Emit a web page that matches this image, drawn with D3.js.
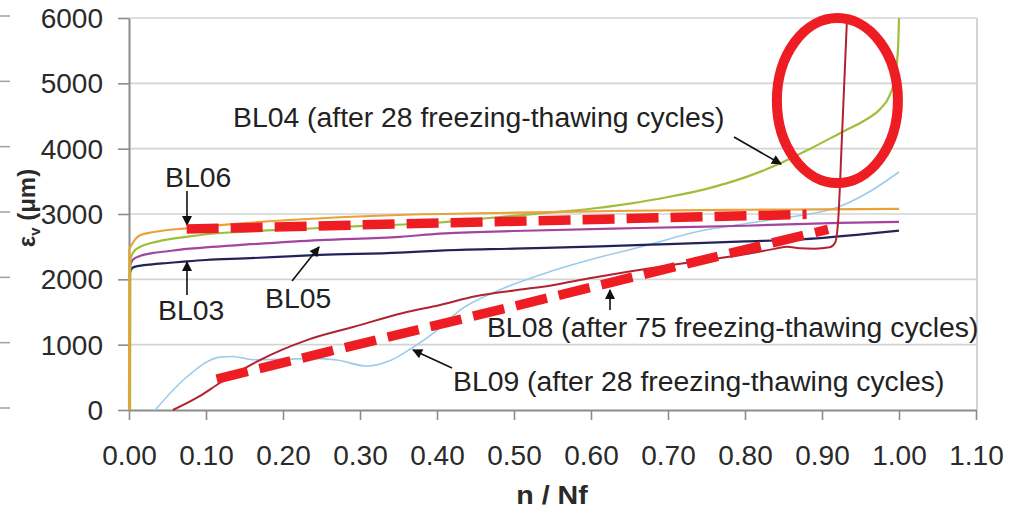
<!DOCTYPE html>
<html>
<head>
<meta charset="utf-8">
<script src="https://cdn.jsdelivr.net/npm/d3@7/dist/d3.min.js"></script>
<style>
  html, body { margin: 0; padding: 0; background: #fff; }
  svg { display: block; }
  text { font-family: "Liberation Sans", Arial, sans-serif; }
</style>
</head>
<body>
<svg id="chart" width="1026" height="509"></svg>
<script>
// Axis ticks
const xTicks = [0, 0.1, 0.2, 0.3, 0.4, 0.5, 0.6, 0.7, 0.8, 0.9, 1.0, 1.1];
const yTicks = [0, 1000, 2000, 3000, 4000, 5000, 6000];

// Vertical strain εv (μm) against life fraction n / Nf
const bl06X = [0, 0.0005, 0.005, 0.015, 0.03, 0.05, 0.075, 0.1, 0.15, 0.25, 0.35, 0.5, 0.65, 0.8, 0.9, 1.0];
const bl06Y = [0, 2450, 2560, 2680, 2720, 2755, 2780, 2810, 2860, 2935, 2985, 3020, 3050, 3065, 3072, 3077];

const bl04X = [0.0013, 0.0018, 0.006, 0.015, 0.03, 0.05, 0.075, 0.1, 0.15, 0.248, 0.3, 0.404, 0.45, 0.534, 0.6, 0.65, 0.7, 0.75, 0.8, 0.843, 0.885, 0.927, 0.958, 0.975, 0.988, 0.995, 0.999, 1.0];
const bl04Y = [0, 2300, 2420, 2500, 2560, 2610, 2650, 2690, 2730, 2786, 2815, 2870, 2920, 3010, 3080, 3160, 3260, 3385, 3560, 3760, 4000, 4260, 4450, 4600, 4820, 5100, 5600, 6000];

const bl05X = [0.001, 0.005, 0.015, 0.03, 0.05, 0.075, 0.1, 0.15, 0.248, 0.352, 0.404, 0.5, 0.664, 0.8, 0.923, 1.0];
const bl05Y = [2200, 2300, 2360, 2400, 2430, 2465, 2490, 2530, 2600, 2650, 2700, 2740, 2786, 2820, 2865, 2880];

const bl03X = [0.001, 0.005, 0.015, 0.03, 0.05, 0.075, 0.1, 0.15, 0.248, 0.352, 0.404, 0.5, 0.612, 0.7, 0.8, 0.871, 0.945, 1.0];
const bl03Y = [2100, 2180, 2210, 2230, 2250, 2275, 2296, 2320, 2373, 2410, 2440, 2470, 2505, 2540, 2580, 2610, 2680, 2745];

const bl08X = [0.057, 0.09, 0.118, 0.17, 0.231, 0.291, 0.356, 0.404, 0.45, 0.5, 0.55, 0.6, 0.65, 0.7, 0.75, 0.8, 0.84, 0.855, 0.871, 0.89, 0.91, 0.917, 0.921, 0.926, 0.9325];
const bl08Y = [0, 200, 413, 765, 1070, 1270, 1485, 1607, 1740, 1830, 1910, 2020, 2120, 2210, 2295, 2385, 2470, 2500, 2475, 2470, 2490, 2560, 2900, 4200, 6000];

const bl09X = [0.034, 0.075, 0.118, 0.135, 0.161, 0.2, 0.24, 0.27, 0.309, 0.34, 0.365, 0.4, 0.43, 0.48, 0.55, 0.612, 0.664, 0.742, 0.8, 0.85, 0.921, 0.96, 1.0];
const bl09Y = [0, 505, 810, 820, 770, 775, 790, 765, 673, 760, 930, 1220, 1530, 1830, 2130, 2342, 2495, 2740, 2850, 2940, 3107, 3330, 3643];

const seriesNames = ["BL09", "BL03", "BL05", "BL04", "BL06", "BL08"];
const seriesColors = ["#9ccbeb", "#23235c", "#a3449f", "#9fbe3c", "#e9a23b", "#b02330"];
const seriesWidths = [1.6, 2.2, 2.2, 2.2, 2.2, 2.0];

// Callout labels: text anchor and arrow (from, to), in data units
const calloutText = [
  "BL04 (after 28 freezing-thawing cycles)",
  "BL06",
  "BL03",
  "BL05",
  "BL08 (after 75 freezing-thawing cycles)",
  "BL09 (after 28 freezing-thawing cycles)"
];
const calloutPos = [[0.1351, 4332], [0.0468, 3413], [0.0377, 1378], [0.1766, 1561], [0.4649, 1117], [0.4208, 291]];
const calloutFrom = [[0.7857, 4179], [0.0753, 3352], [0.0753, 1760], [0.2117, 1975], [0.6247, 1531], [0.4195, 643]];
const calloutTo = [[0.8468, 3765], [0.0753, 2832], [0.0753, 2265], [0.2468, 2495], [0.6247, 1837], [0.3688, 918]];

// Hand-drawn highlight: two dashed trend strokes and an ellipse
const trendStart = [[0.0749, 2770], [0.1139, 474]];
const trendEnd = [[0.880, 2995], [0.908, 2766]];
const ringCenter = [0.920, 4737];
const ringRadius = [0.0786, 1263];

const svg = d3.select("#chart");
const x = d3.scaleLinear().domain([0, 1.1]).range([129, 976]);
const y = d3.scaleLinear().domain([0, 6000]).range([410, 18]);

// Gridlines
svg.append("g").selectAll("line").data(yTicks.filter(d => d > 0)).join("line")
  .attr("x1", x(0)).attr("x2", x(1.1) + 1)
  .attr("y1", d => y(d)).attr("y2", d => y(d))
  .attr("stroke", "#d4d4d4").attr("stroke-width", 1.6);

// Plot area right edge
svg.append("line")
  .attr("x1", x(1.1) + 1).attr("x2", x(1.1) + 1)
  .attr("y1", y(6000)).attr("y2", y(0))
  .attr("stroke", "#cfcfcf").attr("stroke-width", 1.8);

// Tick stubs on the left margin
svg.append("g").selectAll("line").data(yTicks).join("line")
  .attr("x1", 0).attr("x2", 10)
  .attr("y1", d => y(d) - 2).attr("y2", d => y(d) - 2)
  .attr("stroke", "#a0a0a0").attr("stroke-width", 1.5);

// Axes
const xAxis = svg.append("g").attr("transform", `translate(0,${y(0)})`)
  .call(d3.axisBottom(x).tickValues(xTicks).tickFormat(d3.format(".2f")).tickSize(10).tickSizeOuter(0));
const yAxis = svg.append("g").attr("transform", `translate(${x(0)},0)`)
  .call(d3.axisLeft(y).tickValues(yTicks).tickFormat(d3.format("d")).tickSize(11).tickSizeOuter(0));

[xAxis, yAxis].forEach(g => {
  g.select(".domain").attr("stroke", "#8c8c8c").attr("stroke-width", 2);
  g.selectAll(".tick line").attr("stroke", "#8c8c8c").attr("stroke-width", 1.6);
  g.selectAll(".tick text")
    .attr("font-family", "'Liberation Sans', Arial, sans-serif")
    .attr("font-size", 28).attr("fill", "#2a2a2a");
});
xAxis.selectAll(".tick text").attr("y", 55).attr("dy", null);
yAxis.selectAll(".tick text").attr("x", -26).attr("dy", "0.34em");

// Series lines
const seriesX = [bl09X, bl03X, bl05X, bl04X, bl06X, bl08X];
const seriesY = [bl09Y, bl03Y, bl05Y, bl04Y, bl06Y, bl08Y];
const line = d3.line().x(d => x(d[0])).y(d => y(d[1])).curve(d3.curveMonotoneX);

svg.append("g").selectAll("path").data(seriesNames).join("path")
  .attr("d", (d, i) => line(seriesX[i].map((v, j) => [v, seriesY[i][j]])))
  .attr("fill", "none")
  .attr("stroke", (d, i) => seriesColors[i])
  .attr("stroke-width", (d, i) => seriesWidths[i])
  .attr("stroke-linejoin", "round");

// Arrowhead
svg.append("defs").append("marker")
  .attr("id", "head").attr("viewBox", "0 0 10 10")
  .attr("refX", 9).attr("refY", 5)
  .attr("markerWidth", 11).attr("markerHeight", 10)
  .attr("markerUnits", "userSpaceOnUse")
  .attr("orient", "auto")
  .append("path").attr("d", "M0,0 L10,5 L0,10 Z").attr("fill", "#111");

// Callouts
svg.append("g").selectAll("line").data(calloutText).join("line")
  .attr("x1", (d, i) => x(calloutFrom[i][0])).attr("y1", (d, i) => y(calloutFrom[i][1]))
  .attr("x2", (d, i) => x(calloutTo[i][0])).attr("y2", (d, i) => y(calloutTo[i][1]))
  .attr("stroke", "#111").attr("stroke-width", 1.6)
  .attr("marker-end", "url(#head)");

svg.append("g").selectAll("text").data(calloutText).join("text")
  .attr("transform", (d, i) => `translate(${x(calloutPos[i][0])},${y(calloutPos[i][1])}) scale(1.05,1)`)
  .attr("font-size", 27).attr("fill", "#222")
  .text(d => d);

// Axis titles
const yTitle = svg.append("text")
  .attr("transform", "translate(35,208) rotate(-90)")
  .attr("text-anchor", "middle")
  .attr("font-size", 24).attr("font-weight", "bold").attr("fill", "#2a2a2a");
yTitle.append("tspan").text("ε");
yTitle.append("tspan").attr("font-size", 15).attr("dy", 5).text("v");
yTitle.append("tspan").attr("dy", -5).text(" (μm)");

svg.append("text")
  .attr("transform", "translate(552,504) scale(1.1,1)")
  .attr("text-anchor", "middle")
  .attr("font-size", 26).attr("font-weight", "bold").attr("fill", "#2a2a2a")
  .text("n / Nf");

// Highlight overlay
const red = "#ee1d23";
svg.append("g").selectAll("line").data(trendStart).join("line")
  .attr("x1", d => x(d[0])).attr("y1", d => y(d[1]))
  .attr("x2", (d, i) => x(trendEnd[i][0])).attr("y2", (d, i) => y(trendEnd[i][1]))
  .attr("stroke", red).attr("stroke-width", 9.5)
  .attr("stroke-dasharray", "32 12");

svg.append("ellipse")
  .attr("cx", x(ringCenter[0])).attr("cy", y(ringCenter[1]))
  .attr("rx", x(ringRadius[0]) - x(0)).attr("ry", y(0) - y(ringRadius[1]))
  .attr("fill", "none").attr("stroke", red).attr("stroke-width", 10);
</script>
</body>
</html>
